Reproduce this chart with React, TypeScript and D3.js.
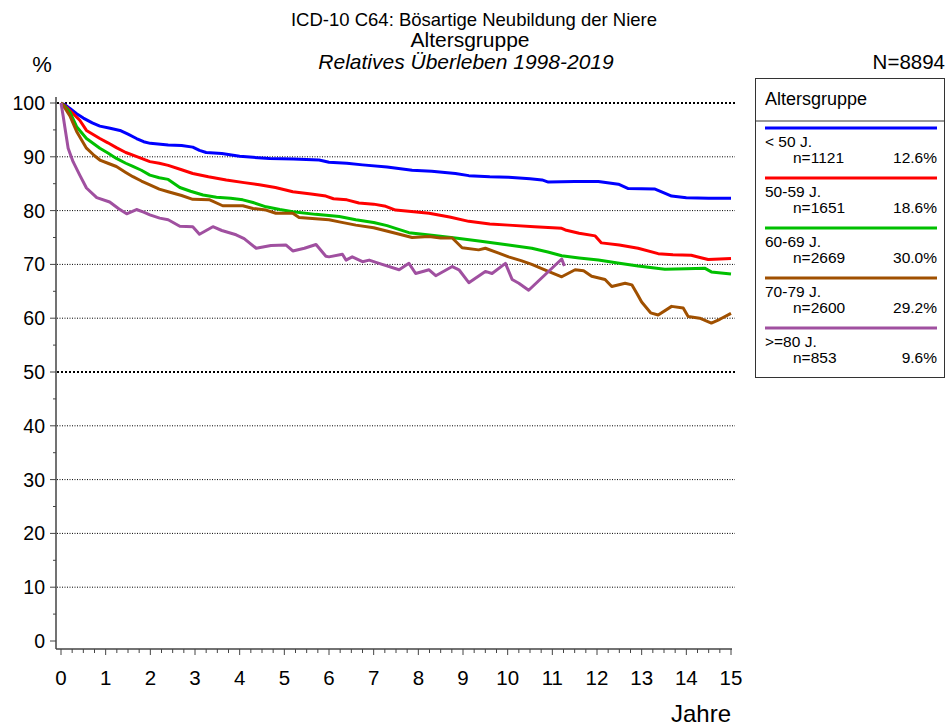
import * as d3 from "d3";
import { useEffect, useRef } from "react";

// survival curves: [Jahre, %]
const lt50: [number, number][] = [
    [0, 100], [0.1, 99.6], [0.2, 99.0], [0.35, 98.0], [0.5, 97.2], [0.7, 96.3], [0.87, 95.7], [1.1, 95.3],
    [1.32, 94.9], [1.5, 94.2], [1.69, 93.4], [1.85, 92.8], [2.0, 92.5], [2.4, 92.2], [2.7, 92.1], [2.95, 91.8],
    [3.1, 91.2], [3.25, 90.8], [3.6, 90.6], [4.0, 90.1], [4.3, 89.9], [4.67, 89.7], [5.2, 89.6], [5.78, 89.4],
    [6.0, 89.0], [6.4, 88.8], [6.75, 88.5], [7.3, 88.1], [7.86, 87.5], [8.3, 87.3], [8.83, 86.9], [9.13, 86.5],
    [9.6, 86.3], [10.02, 86.2], [10.5, 85.9], [10.77, 85.7], [10.91, 85.3], [11.5, 85.4], [12.03, 85.4],
    [12.48, 84.9], [12.7, 84.1], [13.3, 84.0], [13.5, 83.3], [13.67, 82.7], [14.0, 82.4], [14.5, 82.3], [15.0, 82.3],
];
const age5059: [number, number][] = [
    [0, 100], [0.1, 99.4], [0.2, 98.6], [0.42, 96.8], [0.57, 94.9], [0.87, 93.4], [1.05, 92.6], [1.24, 91.7],
    [1.45, 90.8], [1.61, 90.3], [1.8, 89.7], [1.99, 89.1], [2.2, 88.8], [2.4, 88.4], [2.7, 87.6], [2.95, 86.9],
    [3.3, 86.3], [3.7, 85.7], [4.1, 85.2], [4.44, 84.8], [4.8, 84.3], [5.19, 83.5], [5.6, 83.1], [5.93, 82.7],
    [6.1, 82.2], [6.4, 82.0], [6.67, 81.4], [7.0, 81.2], [7.27, 80.8], [7.49, 80.1], [7.9, 79.8], [8.24, 79.5],
    [8.7, 78.8], [9.13, 78.0], [9.6, 77.5], [10.02, 77.3], [10.6, 77.0], [11.21, 76.7], [11.29, 76.4],
    [11.6, 75.8], [11.96, 75.3], [12.1, 74.0], [12.5, 73.6], [12.92, 73.0], [13.37, 72.0], [13.7, 71.8],
    [14.11, 71.7], [14.35, 71.2], [14.49, 70.9], [14.75, 71.0], [15.0, 71.1],
];
const age6069: [number, number][] = [
    [0, 100], [0.1, 99.2], [0.2, 98.3], [0.35, 95.6], [0.57, 93.4], [0.87, 91.6], [1.05, 90.7], [1.24, 89.7],
    [1.45, 88.8], [1.61, 88.2], [1.8, 87.5], [1.99, 86.6], [2.2, 86.1], [2.4, 85.8], [2.66, 84.3], [2.9, 83.6],
    [3.18, 82.9], [3.48, 82.5], [3.8, 82.3], [4.07, 82.0], [4.3, 81.5], [4.59, 80.7], [4.9, 80.2], [5.19, 79.8],
    [5.7, 79.3], [6.23, 78.9], [6.6, 78.3], [7.0, 77.8], [7.3, 77.2], [7.49, 76.7], [7.79, 75.9], [8.3, 75.4],
    [8.83, 74.9], [9.4, 74.3], [10.02, 73.6], [10.54, 73.0], [10.9, 72.3], [11.21, 71.6], [11.6, 71.2],
    [12.03, 70.8], [12.5, 70.2], [12.92, 69.7], [13.52, 69.1], [14.0, 69.2], [14.41, 69.3], [14.56, 68.6], [15.0, 68.2],
];
const age7079: [number, number][] = [
    [0, 100], [0.1, 98.9], [0.2, 97.6], [0.35, 94.7], [0.57, 91.6], [0.75, 90.2], [0.87, 89.4], [1.05, 88.8],
    [1.24, 88.2], [1.45, 87.1], [1.61, 86.3], [1.8, 85.5], [1.99, 84.8], [2.2, 84.0], [2.4, 83.5], [2.7, 82.8],
    [2.95, 82.1], [3.33, 82.0], [3.62, 80.9], [4.07, 80.9], [4.3, 80.4], [4.59, 80.1], [4.81, 79.5], [5.19, 79.5],
    [5.33, 78.7], [5.7, 78.5], [6.0, 78.3], [6.23, 77.9], [6.6, 77.3], [7.0, 76.8], [7.49, 75.8], [7.86, 75.0],
    [8.24, 75.2], [8.5, 74.9], [8.76, 74.9], [8.98, 73.1], [9.35, 72.7], [9.5, 73.0], [9.8, 72.1], [10.02, 71.4],
    [10.3, 70.7], [10.54, 70.0], [10.91, 68.7], [11.21, 67.7], [11.51, 69.0], [11.7, 68.8], [11.88, 67.8],
    [12.18, 67.2], [12.33, 65.9], [12.63, 66.5], [12.78, 66.2], [12.9, 64.5], [13.0, 63.0], [13.2, 61.0],
    [13.37, 60.6], [13.67, 62.2], [13.93, 61.9], [14.04, 60.3], [14.3, 60.0], [14.56, 59.1], [14.75, 59.8], [15.0, 60.9],
];
const ge80: [number, number][] = [
    [0, 100], [0.05, 97.5], [0.09, 95.3], [0.16, 91.6], [0.27, 89.1], [0.42, 86.6], [0.57, 84.2], [0.8, 82.4],
    [1.09, 81.6], [1.3, 80.3], [1.47, 79.4], [1.69, 80.2], [1.85, 79.7], [1.99, 79.2], [2.21, 78.6], [2.4, 78.3],
    [2.66, 77.1], [2.95, 77.0], [3.1, 75.6], [3.4, 77.0], [3.6, 76.3], [3.92, 75.5], [4.1, 74.8], [4.37, 73.0],
    [4.7, 73.5], [5.04, 73.6], [5.19, 72.5], [5.45, 73.0], [5.71, 73.7], [5.93, 71.5], [6.0, 71.4], [6.3, 71.9],
    [6.38, 70.8], [6.52, 71.4], [6.75, 70.5], [6.9, 70.8], [7.12, 70.2], [7.57, 69.0], [7.79, 70.2], [7.94, 68.3],
    [8.24, 69.0], [8.39, 67.9], [8.76, 69.6], [8.91, 69.0], [9.13, 66.6], [9.5, 68.7], [9.65, 68.3], [9.95, 70.2],
    [10.1, 67.2], [10.25, 66.5], [10.47, 65.2], [11.21, 71.0], [11.27, 69.7],
];

const groupLabels = ["< 50 J.", "50-59 J.", "60-69 J.", "70-79 J.", ">=80 J."];
const groupCounts = [1121, 1651, 2669, 2600, 853];
const groupColors = ["#0000ff", "#ff0000", "#00c000", "#a05000", "#a050a0"];
const groupCurves = [lt50, age5059, age6069, age7079, ge80];
const totalN = 8894;

const yTicks = d3.range(0, 101, 10);
const xTicks = d3.range(0, 16, 1);

const FONT = "'Liberation Sans', Arial, sans-serif";

export default function App() {
    const ref = useRef<SVGSVGElement>(null);

    useEffect(() => {
        const svg = d3.select(ref.current);
        svg.selectAll("*").remove();

        const xScale = d3.scaleLinear().domain([0, 15]).range([61, 731]);
        const yScale = d3.scaleLinear().domain([0, 100]).range([641, 103]);
        const axisX = 56;
        const axisY = 649;

        // titles
        const titles = svg.append("g").attr("font-family", FONT).attr("fill", "#000");
        titles.append("text").attr("x", 474).attr("y", 26).attr("text-anchor", "middle").attr("font-size", 18.5)
            .text("ICD-10 C64: Bösartige Neubildung der Niere");
        titles.append("text").attr("x", 470).attr("y", 47).attr("text-anchor", "middle").attr("font-size", 21)
            .text("Altersgruppe");
        titles.append("text").attr("x", 466).attr("y", 69).attr("text-anchor", "middle").attr("font-size", 21)
            .attr("font-style", "italic").text("Relatives Überleben 1998-2019");
        titles.append("text").attr("x", 42).attr("y", 72).attr("text-anchor", "middle").attr("font-size", 22).text("%");
        titles.append("text").attr("x", 945).attr("y", 69).attr("text-anchor", "end").attr("font-size", 20.5)
            .text("N=" + totalN);

        // grid
        svg.append("g")
            .selectAll("line")
            .data(yTicks.filter(v => v > 0))
            .enter()
            .append("line")
            .attr("x1", axisX + 1)
            .attr("x2", 735)
            .attr("y1", d => yScale(d))
            .attr("y2", d => yScale(d))
            .attr("stroke", "#000")
            .attr("stroke-width", d => (d === 100 || d === 50 ? 2 : 1))
            .attr("stroke-dasharray", d => (d === 100 || d === 50 ? "2,2" : "1,1.5"));

        // y axis
        const yAxis = svg.append("g").attr("stroke", "#444");
        yAxis.append("line").attr("x1", axisX).attr("x2", axisX).attr("y1", 97).attr("y2", axisY).attr("stroke-width", 1.5);
        yAxis.selectAll(".ymaj").data(yTicks).enter().append("line")
            .attr("x1", axisX - 6).attr("x2", axisX).attr("y1", d => yScale(d)).attr("y2", d => yScale(d));
        yAxis.selectAll(".ymin").data(d3.range(5, 100, 10)).enter().append("line")
            .attr("x1", axisX - 3).attr("x2", axisX).attr("y1", d => yScale(d)).attr("y2", d => yScale(d));
        svg.append("g").attr("font-family", FONT).attr("font-size", 19.5)
            .selectAll("text").data(yTicks).enter().append("text")
            .attr("x", 45).attr("y", d => yScale(d) + 7).attr("text-anchor", "end").text(d => d);

        // x axis
        const xAxis = svg.append("g").attr("stroke", "#444");
        xAxis.append("line").attr("x1", axisX).attr("x2", xScale(15) + 1).attr("y1", axisY).attr("y2", axisY).attr("stroke-width", 1.5);
        xAxis.selectAll(".xmin").data(d3.range(0, 15.01, 0.25)).enter().append("line")
            .attr("x1", d => xScale(d)).attr("x2", d => xScale(d))
            .attr("y1", axisY).attr("y2", d => (Number.isInteger(d) ? axisY + 6 : axisY + 4));
        svg.append("g").attr("font-family", FONT).attr("font-size", 20.5)
            .selectAll("text").data(xTicks).enter().append("text")
            .attr("x", d => xScale(d)).attr("y", 685).attr("text-anchor", "middle").text(d => d);
        svg.append("text").attr("font-family", FONT).attr("font-size", 24)
            .attr("x", 701).attr("y", 722).attr("text-anchor", "middle").text("Jahre");

        // curves
        const line = d3.line<[number, number]>()
            .x(d => xScale(d[0]))
            .y(d => yScale(d[1]));
        groupCurves.forEach((curve, i) =>
            svg.append("path")
                .datum(curve)
                .attr("d", line)
                .attr("fill", "none")
                .attr("stroke", groupColors[i])
                .attr("stroke-width", 3)
                .attr("stroke-linejoin", "round")
        );

        // legend
        const lg = svg.append("g").attr("font-family", FONT);
        lg.append("rect").attr("x", 755.5).attr("y", 78.5).attr("width", 189).attr("height", 299)
            .attr("fill", "#fff").attr("stroke", "#333");
        lg.append("line").attr("x1", 755).attr("x2", 945).attr("y1", 121).attr("y2", 121).attr("stroke", "#333");
        lg.append("text").attr("x", 765).attr("y", 105).attr("font-size", 18).text("Altersgruppe");
        const pct = d3.format(".1%");
        groupLabels.forEach((label, i) => {
            const y0 = 128 + i * 50;
            lg.append("line").attr("x1", 765).attr("x2", 937).attr("y1", y0).attr("y2", y0)
                .attr("stroke", groupColors[i]).attr("stroke-width", 3);
            lg.append("text").attr("x", 765).attr("y", y0 + 19).attr("font-size", 15.5).text(label);
            lg.append("text").attr("x", 793).attr("y", y0 + 35).attr("font-size", 15.5).text("n=" + groupCounts[i]);
            lg.append("text").attr("x", 937).attr("y", y0 + 35).attr("font-size", 15.5).attr("text-anchor", "end")
                .text(pct(groupCounts[i] / totalN));
        });
    }, []);

    return (
        <svg
            ref={ref}
            width={948}
            height={727}
            style={{ position: "absolute", left: 0, top: 0, background: "#fff" }}
        />
    );
}
